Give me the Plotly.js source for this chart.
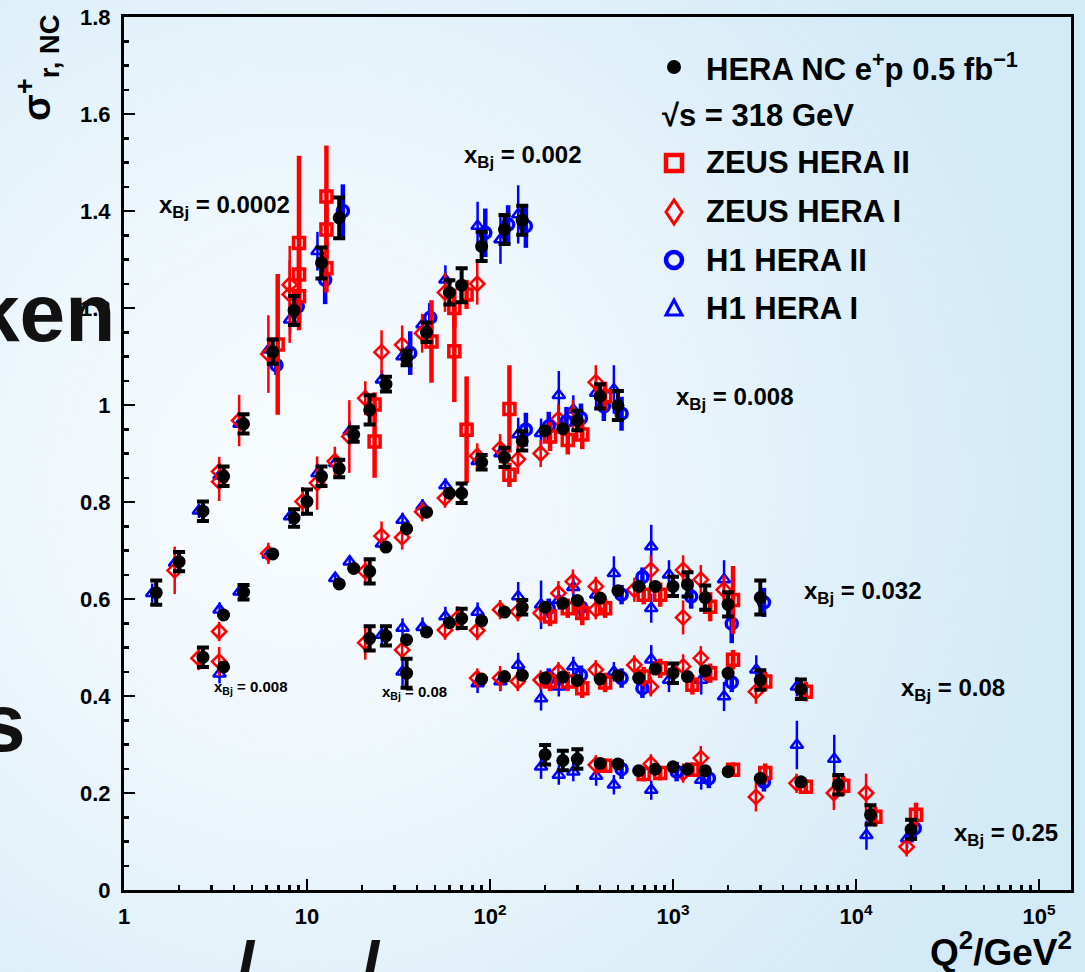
<!DOCTYPE html>
<html><head><meta charset="utf-8">
<script src="https://cdn.plot.ly/plotly-3.0.1.min.js"></script>
<style>
html,body{margin:0;padding:0;width:1085px;height:972px;overflow:hidden;
background:radial-gradient(ellipse 70% 80% at 28% 50%, #f8fcfe 0%, #eef7fc 38%, #e0f0f9 70%, #d3eaf7 100%);}
#chart{width:1085px;height:972px;}
</style></head><body><div id="chart"></div>
<script>
// ---------------- DATA ----------------
// HERA NC e+p combined (black)
const heraQ2 = [
 1.5,2,2.7,3.5,4.5,6.5,8.5,12,15,
 3.5,4.5,6.5,8.5,10,12,15,18,22,27,35,45,60,70,90,120,150,
 2.7,3.5,
 15,18,22,27,35,45,60,70,90,120,150,200,250,300,400,500,
 22,27,35,45,60,70,90,120,150,200,250,300,400,500,650,800,1000,1200,1500,2000,3000,
 35,90,120,150,200,250,300,400,500,650,800,1000,1200,1500,2000,3000,5000,
 200,250,300,400,500,650,800,1000,1200,1500,2000,3000,5000,8000,12000,20000];
const heraSig = [
 0.613,0.677,0.781,0.853,0.961,1.11,1.195,1.293,1.386,
 0.567,0.614,0.693,0.767,0.801,0.853,0.869,0.939,0.99,1.043,1.097,1.15,1.232,1.247,1.327,1.362,1.381,
 0.48,0.46,
 0.631,0.663,0.657,0.707,0.745,0.779,0.818,0.818,0.882,0.892,0.926,0.947,0.951,0.968,1.018,0.999,
 0.519,0.524,0.516,0.532,0.551,0.56,0.555,0.573,0.583,0.583,0.591,0.597,0.602,0.617,0.626,0.626,0.626,0.63,0.603,0.589,0.603,
 0.447,0.435,0.44,0.443,0.437,0.439,0.432,0.435,0.442,0.437,0.456,0.447,0.44,0.452,0.447,0.433,0.414,
 0.279,0.267,0.27,0.261,0.26,0.246,0.249,0.254,0.249,0.246,0.244,0.23,0.223,0.217,0.155,0.125];
const heraErr = [
 0.025,0.02,0.02,0.02,0.02,0.025,0.03,0.032,0.042,
 0,0.015,0,0.018,0.025,0.02,0.018,0.015,0.03,0.015,0.015,0.02,0.025,0.035,0.03,0.03,0.03,
 0.02,0,
 0,0,0.025,0,0,0,0,0.02,0.015,0.02,0.02,0,0,0.02,0.025,0.03,
 0.025,0.02,0,0,0,0.02,0,0,0.015,0,0,0,0,0,0,0,0.02,0.025,0.025,0.025,0.035,
 0.03,0,0,0,0,0,0,0,0,0,0,0.02,0,0,0,0.02,0.02,
 0.02,0.02,0.02,0,0,0,0,0,0,0,0,0,0,0.02,0.02,0.02];

// ZEUS HERA II (red open squares)
const zeus2Q2 = [6.5,8.5,8.5,8.5,12,12,12,
 22,22,45,60,60,70,
 70,120,120,200,250,300,400,
 200,250,300,400,650,800,1500,2000,
 200,250,300,400,650,800,1200,1500,2000,3000,5000,
 400,650,800,1200,2000,3000,5000,8000,12000,20000];
const zeus2Sig = [1.125,1.334,1.269,1.224,1.43,1.362,1.282,
 1.001,0.925,1.131,1.2,1.111,1.228,
 0.949,0.992,0.856,0.935,0.928,0.939,1.018,
 0.564,0.581,0.571,0.581,0.609,0.609,0.584,0.598,
 0.43,0.43,0.416,0.428,0.44,0.457,0.423,0.447,0.475,0.43,0.409,
 0.256,0.239,0.241,0.248,0.248,0.241,0.213,0.215,0.151,0.155];
const zeus2Err = [0.145,0.18,0.05,0.06,0.105,0.06,0.05,
 0.025,0.075,0.085,0.04,0.105,0.03,
 0.11,0.09,0.025,0.03,0.03,0.03,0.03,
 0.02,0.02,0.025,0.02,0.02,0.025,0.03,0.07,
 0.02,0.02,0.02,0.02,0.02,0.02,0.02,0.02,0.02,0.02,0.02,
 0.015,0.015,0.015,0.015,0.015,0.02,0.015,0.02,0.02,0.025];

// ZEUS HERA I (red open diamonds)
const zeus1Q2 = [2,3.5,3.5,4.5,6.5,8.5,8.5,
 3.5,6.5,10,12,15,18,22,27,35,45,60,90,
 2.7,3.5,
 22,27,35,45,60,90,120,150,200,250,300,400,
 22,35,60,70,90,120,150,200,250,300,400,400,650,800,1200,1200,1500,2000,
 90,120,150,200,250,400,650,800,1200,1500,3000,
 400,800,1200,1500,3000,5000,8000,12000,20000];
const zeus1Sig = [0.659,0.863,0.842,0.968,1.105,1.248,1.228,
 0.533,0.694,0.801,0.839,0.884,0.935,1.014,1.109,1.124,1.148,1.232,1.25,
 0.478,0.471,
 0.657,0.73,0.727,0.78,0.808,0.895,0.91,0.888,0.9,0.971,0.98,1.047,
 0.51,0.495,0.536,0.56,0.535,0.578,0.574,0.571,0.612,0.636,0.626,0.578,0.619,0.66,0.66,0.562,0.64,0.619,
 0.437,0.437,0.43,0.433,0.45,0.454,0.464,0.419,0.461,0.478,0.409,
 0.258,0.26,0.241,0.272,0.192,0.22,0.2,0.2,0.089];
const zeus1Err = [0.049,0.03,0.04,0.053,0.08,0.05,0.1,
 0.02,0.022,0.03,0.055,0.03,0.075,0.035,0.045,0.04,0.04,0.04,0.043,
 0.025,0.03,
 0.022,0.03,0.025,0.02,0.02,0.026,0.03,0.03,0.028,0.03,0.03,0.035,
 0.035,0.02,0.02,0.025,0.02,0.02,0.02,0.02,0.025,0.025,0.02,0.02,0.025,0.03,0.03,0.035,0.03,0.03,
 0.02,0.025,0.02,0.02,0.02,0.02,0.02,0.02,0.025,0.025,0.025,
 0.02,0.02,0.02,0.025,0.03,0.02,0.035,0.04,0.02];

// H1 HERA II (blue open circles)
const h1IIQ2 = [6.5,8.5,12,15,
 35,45,90,120,150,
 150,200,250,300,400,500,
 200,300,500,650,1200,2000,3000,
 200,300,500,650,2000,
 500,1000,1500,3000,20000];
const h1IISig = [1.082,1.203,1.258,1.4,
 1.107,1.18,1.355,1.372,1.369,
 0.949,0.956,0.966,0.973,0.997,0.982,
 0.581,0.583,0.609,0.645,0.605,0.549,0.593,
 0.437,0.443,0.437,0.416,0.428,
 0.249,0.244,0.23,0.223,0.127];
const h1IIErr = [0.02,0.025,0.05,0.055,
 0.045,0.03,0.05,0.04,0.045,
 0.035,0.03,0.03,0.03,0.03,0.035,
 0.02,0.02,0.02,0.02,0.025,0.04,0.03,
 0.02,0.02,0.02,0.02,0.02,
 0.02,0.02,0.02,0.02,0.02];

// H1 HERA I (blue open triangles)
const h1IQ2 = [1.5,2,2.7,3.5,4.5,6.5,8.5,12,
 3.5,4.5,6.5,8.5,12,15,18,27,35,45,60,90,120,150,
 3.5,
 15,18,27,35,45,60,90,120,150,200,250,300,400,500,
 27,35,45,60,90,150,200,250,300,400,500,800,800,1000,2000,
 35,90,120,150,200,250,300,500,800,1000,1500,2000,3000,5000,
 200,250,300,400,500,800,1500,5000,8000,12000,20000];
const h1ISig = [0.612,0.674,0.782,0.854,0.961,1.114,1.176,1.317,
 0.578,0.615,0.691,0.77,0.859,0.88,0.946,1.052,1.1,1.166,1.258,1.369,1.341,1.393,
 0.446,
 0.643,0.677,0.714,0.763,0.791,0.834,0.884,0.9,0.939,0.942,1.02,0.99,1.025,1.032,
 0.526,0.54,0.542,0.564,0.573,0.605,0.588,0.598,0.624,0.609,0.653,0.708,0.581,0.65,0.64,
 0.45,0.426,0.43,0.464,0.395,0.419,0.461,0.45,0.475,0.433,0.433,0.399,0.454,0.419,
 0.254,0.237,0.244,0.235,0.217,0.206,0.227,0.299,0.27,0.113,0.106];
const h1IErr = [0.02,0.02,0.015,0.015,0.015,0.02,0.03,0.04,
 0.015,0.015,0.015,0.015,0.02,0.02,0.02,0.02,0.02,0.02,0.03,0.05,0.05,0.06,
 0.02,
 0.01,0.01,0.01,0.015,0.015,0.015,0.02,0.02,0.035,0.03,0.05,0.03,0.03,0.05,
 0.02,0.02,0.02,0.02,0.02,0.03,0.05,0.02,0.02,0.02,0.035,0.045,0.03,0.03,0.04,
 0.03,0.02,0.02,0.025,0.025,0.02,0.02,0.02,0.03,0.025,0.03,0.03,0.03,0.02,
 0.025,0.02,0.02,0.02,0.02,0.02,0.02,0.05,0.05,0.03,0.02];

// Axis tick labels
const xTickVals = [1,10,100,1000,10000,100000];
const xTickText = ['1','10','10<sup>2</sup>','10<sup>3</sup>','10<sup>4</sup>','10<sup>5</sup>'];

// x_Bj bin labels
const binLabels = ['0.0002','0.002','0.008','0.032','0.08','0.25','0.008','0.08'];

// Legend entries
const legendNames = ['HERA NC e<sup>+</sup>p 0.5 fb<sup>\u22121</sup>','\u221As = 318 GeV','ZEUS HERA II','ZEUS HERA I','H1 HERA II','H1 HERA I'];

// ---------------- RENDERING ----------------
const FONT = "'Liberation Sans', Arial, Helvetica, sans-serif";
const RED = '#ff0000', BLUE = '#0000ff';
function shifted(arr, dec){ const f = Math.pow(10, dec); return arr.map(v => v*f); }

function series(q2, sig, err, shift, marker, ebar, name){
  return {type:'scatter', mode:'markers', name:name, x:shifted(q2, shift), y:sig,
    error_y:Object.assign({type:'data', array:err, visible:true}, ebar),
    marker:marker, showlegend:false, hoverinfo:'skip', cliponaxis:false};
}

const traces = [
  series(h1IQ2, h1ISig, h1IErr, -0.022,
    {symbol:'triangle-up-open', size:11, color:BLUE, line:{width:2.5, color:BLUE}},
    {color:BLUE, thickness:2.5, width:0}, 'H1 HERA I'),
  series(zeus1Q2, zeus1Sig, zeus1Err, -0.024,
    {symbol:'diamond-open', size:11, color:RED, line:{width:2.5, color:RED}},
    {color:RED, thickness:2.5, width:0}, 'ZEUS HERA I'),
  series(h1IIQ2, h1IISig, h1IIErr, 0.02,
    {symbol:'circle-open', size:11, color:BLUE, line:{width:3.5, color:BLUE}},
    {color:BLUE, thickness:4.5, width:0}, 'H1 HERA II'),
  series(zeus2Q2, zeus2Sig, zeus2Err, 0.027,
    {symbol:'square-open', size:11, color:RED, line:{width:3.5, color:RED}},
    {color:RED, thickness:4.5, width:0}, 'ZEUS HERA II'),
  series(heraQ2, heraSig, heraErr, 0,
    {symbol:'circle', size:13, color:'#000000'},
    {color:'#000000', thickness:4, width:6}, 'HERA NC e+p 0.5 fb-1')
];

// pixel -> paper helpers for the plot box (l=124, r=1071, t=17, b=890)
const L=124, R=1071, T=17, B=890;
const PX = x => (x-L)/(R-L);
const PY = y => (B-y)/(B-T);

const minorX = [];
for (let k=0;k<5;k++) for (let d=2; d<=9; d++) minorX.push(d*Math.pow(10,k));

const ann = [];
function txt(text, x, y, size, xanchor, opts){
  ann.push(Object.assign({text:'<b>'+text+'</b>', x:PX(x), y:PY(y), xref:'paper', yref:'paper',
    showarrow:false, xanchor:xanchor||'left', yanchor:'middle',
    font:{family:FONT, size:size, color:'#000'}}, opts||{}));
}
// axis titles
txt('\u03C3<sup>+</sup><sub>r, NC</sub>', 37, 68, 39, 'center', {textangle:-90});
txt('Q<sup>2</sup>/GeV<sup>2</sup>', 1001, 949, 37, 'center');
// x_Bj labels
const xbjPos = [[157,206,24],[462,156,24],[674,398,24],[802,592,24],[899,689,24],[952,834,24],[212,688,15],[380,692,15]];
binLabels.forEach((v,i)=>{ const p=xbjPos[i]; txt('x<sub>Bj</sub> = '+v, p[0], p[1], p[2], 'left'); });
// legend
const legY = [67,115,163,212,260,308];
legendNames.forEach((n,i)=>{ txt(n, i===1?660:704, legY[i], 31, 'left'); });
// background slide fragments (partly hidden words of the slide behind the chart)
ann.push({text:'<b>ken</b>', x:PX(117), y:PY(312), xref:'paper', yref:'paper', showarrow:false,
  xanchor:'right', yanchor:'middle', font:{family:FONT, size:82, color:'#111'}});
ann.push({text:'<b>s</b>', x:PX(28), y:PY(722), xref:'paper', yref:'paper', showarrow:false,
  xanchor:'right', yanchor:'middle', font:{family:FONT, size:82, color:'#111'}});
ann.push({text:'<b>l</b>', x:PX(246), y:PY(926), xref:'paper', yref:'paper', showarrow:false,
  xanchor:'center', yanchor:'top', font:{family:FONT, size:62, color:'#111', style:'italic'}});
ann.push({text:'<b>l</b>', x:PX(371), y:PY(926), xref:'paper', yref:'paper', showarrow:false,
  xanchor:'center', yanchor:'top', font:{family:FONT, size:62, color:'#111', style:'italic'}});

// legend swatches (pixel-sized shapes anchored in paper space)
const sw = (type, xc, yc, extra) => Object.assign({type:type, xref:'paper', yref:'paper',
  xsizemode:'pixel', ysizemode:'pixel', xanchor:PX(xc), yanchor:PY(yc)}, extra);
const shapes = [
  sw('circle', 674, legY[0], {x0:-7, x1:7, y0:-7, y1:7, fillcolor:'#000', line:{width:0}}),
  sw('rect', 674, legY[2], {x0:-8, x1:8, y0:-8, y1:8, line:{color:RED, width:4.5}}),
  sw('path', 674, legY[3], {path:'M -8 0 L 0 12 L 8 0 L 0 -12 Z', line:{color:RED, width:3}}),
  sw('circle', 674, legY[4], {x0:-8, x1:8, y0:-8, y1:8, line:{color:BLUE, width:4.5}}),
  sw('path', 674, legY[5], {path:'M -8 -7 L 8 -7 L 0 8 Z', line:{color:BLUE, width:3}})
];

const axisFont = {family:FONT, size:22, color:'#000', weight:'bold'};
const layout = {
  width:1085, height:972,
  margin:{l:L, r:1085-R, t:T, b:972-B, pad:0},
  paper_bgcolor:'rgba(0,0,0,0)', plot_bgcolor:'rgba(0,0,0,0)',
  showlegend:false,
  xaxis:{type:'log', range:[0, (R-L)/183], tickvals:xTickVals, ticktext:xTickText,
    ticks:'inside', ticklen:11, tickwidth:2.5, tickcolor:'#000',
    showline:true, linewidth:3, linecolor:'#000', mirror:true, showgrid:false, zeroline:false,
    tickfont:axisFont, ticklabelstandoff:5,
    minor:{tickvals:minorX, ticks:'inside', ticklen:5, tickwidth:2.5, tickcolor:'#000', showgrid:false}},
  yaxis:{range:[0,1.8], dtick:0.2, tick0:0, ticks:'inside', ticklen:11, tickwidth:2.5, tickcolor:'#000',
    showline:true, linewidth:3, linecolor:'#000', mirror:true, showgrid:false, zeroline:false,
    tickfont:axisFont, ticklabelstandoff:6,
    minor:{dtick:0.05, ticks:'inside', ticklen:5, tickwidth:2.5, tickcolor:'#000', showgrid:false}},
  annotations:ann, shapes:shapes
};
Plotly.newPlot('chart', traces, layout, {staticPlot:true, displayModeBar:false});
</script></body></html>
